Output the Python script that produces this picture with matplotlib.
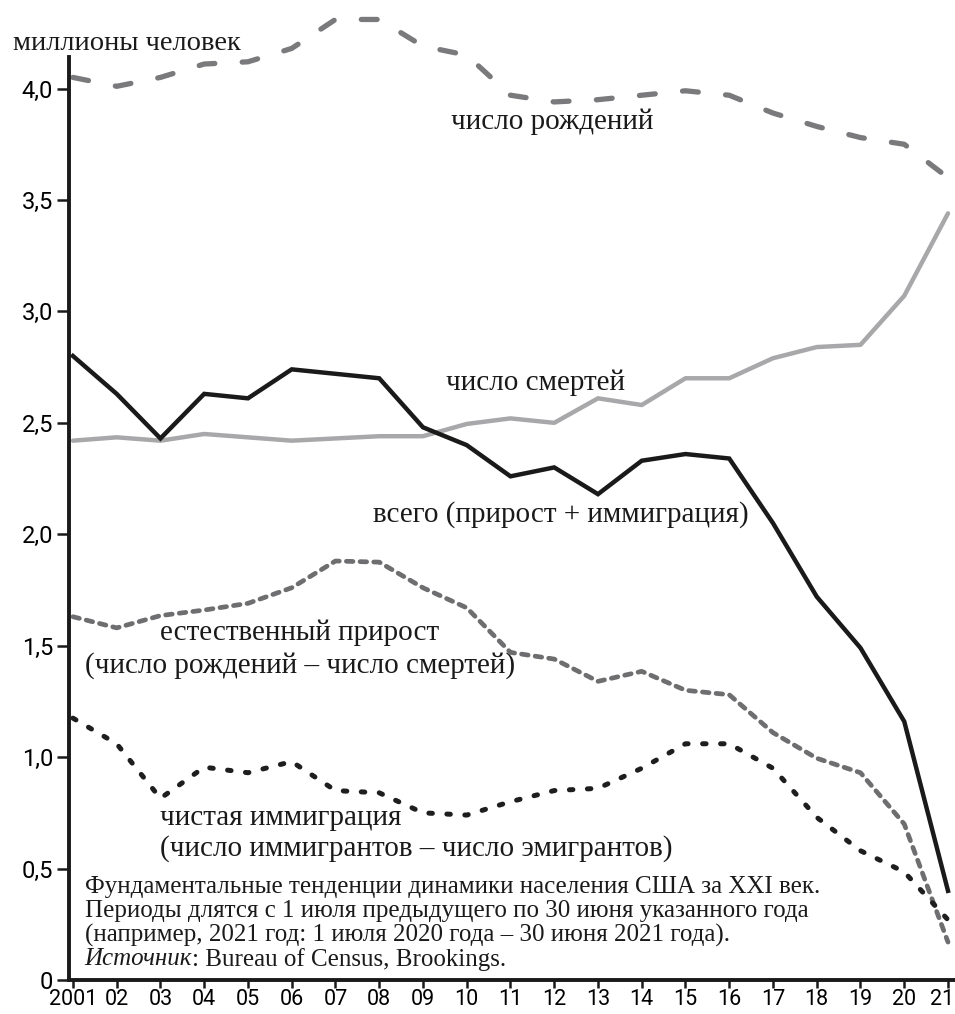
import numpy as np
import matplotlib
matplotlib.use("Agg")
import matplotlib.pyplot as plt
from matplotlib.transforms import ScaledTranslation

# годы (периоды с 1 июля по 30 июня)
years = np.arange(2001, 2022)
year_labels = ['2001'] + ['%02d' % (y % 100) for y in years[1:]]

# млн человек
births = [4.05, 4.01, 4.05, 4.11, 4.12, 4.18, 4.31, 4.31, 4.19, 4.15,
          3.97, 3.94, 3.95, 3.97, 3.99, 3.97, 3.89, 3.83, 3.78, 3.75, 3.60]
deaths = [2.42, 2.435, 2.42, 2.45, 2.435, 2.42, 2.43, 2.44, 2.44, 2.495,
          2.52, 2.50, 2.61, 2.58, 2.70, 2.70, 2.79, 2.84, 2.85, 3.07, 3.44]
total = [2.80, 2.63, 2.43, 2.63, 2.61, 2.74, 2.72, 2.70, 2.48, 2.40,
         2.26, 2.30, 2.18, 2.33, 2.36, 2.34, 2.05, 1.72, 1.49, 1.16, 0.40]
natural = [1.63, 1.58, 1.635, 1.66, 1.69, 1.76, 1.88, 1.875, 1.76, 1.67,
           1.47, 1.44, 1.34, 1.385, 1.30, 1.28, 1.11, 0.995, 0.93, 0.70, 0.17]
immigration = [1.175, 1.06, 0.815, 0.955, 0.93, 0.98, 0.85, 0.84, 0.75, 0.74,
               0.80, 0.85, 0.86, 0.95, 1.06, 1.06, 0.95, 0.73, 0.58, 0.485, 0.27]

yticks = [0, 0.5, 1.0, 1.5, 2.0, 2.5, 3.0, 3.5, 4.0]
ytick_labels = ['0', '0,5', '1,0', '1,5', '2,0', '2,5', '3,0', '3,5', '4,0']

serif = ['Liberation Serif', 'DejaVu Serif']
narrow = ['Roboto', 'DejaVu Sans']

fig = plt.figure(figsize=(9.55, 10.14), dpi=100)
ax = fig.add_axes([69/955, 34/1014, 886/955, 965/1014])

ax.plot(years, deaths, color='#a8a8aa', lw=3.2, solid_capstyle='round', clip_on=False)
ax.plot(years, total, color='#1a1a1a', lw=3.2, solid_joinstyle='miter', clip_on=False)
l_b, = ax.plot(years, births, color='#7a7a7c', lw=3.8, dash_capstyle='round', clip_on=False)
l_b.set_dashes((3.0, 5.2))
l_n, = ax.plot(years, natural, color='#6e6e70', lw=3.4, dash_capstyle='round', clip_on=False)
l_n.set_dashes((1.4, 1.5))
l_i, = ax.plot(years, immigration, color='#1e1e1e', lw=3.6, dash_capstyle='round', clip_on=False)
l_i.set_dashes((0.7, 2.9))

ax.set_xlim(2000.91, 2021.16)
ax.set_ylim(0, 4.33)
ax.spines['top'].set_visible(False)
ax.spines['right'].set_visible(False)
ax.spines['left'].set_bounds(0, 4.14)
for s in ('left', 'bottom'):
    ax.spines[s].set_linewidth(2.8)
    ax.spines[s].set_color('#1a1a1a')

ax.set_xticks(years)
ax.set_xticklabels(year_labels, family=narrow, fontsize=15.5)
ax.set_yticks(yticks)
ax.set_yticklabels(ytick_labels, family=narrow, fontsize=17)
ax.tick_params(axis='y', direction='out', length=8.5, width=1.8, pad=3, color='#1a1a1a')
ax.tick_params(axis='x', direction='out', length=5.5, width=1.8, pad=1, color='#1a1a1a')
last = ax.get_xticklabels()[-1]
last.set_transform(last.get_transform() + ScaledTranslation(-6/100, 0, fig.dpi_scale_trans))

fig.text(13/955, 1 - 44/1014, 'миллионы человек', family=serif, fontsize=20.5,
         ha='left', va='center', color='#1a1a1a')

tk = dict(family=serif, fontsize=21, color='#1a1a1a', va='center')
ax.text(2011.95, 3.85, 'число рождений', ha='center', **tk)
ax.text(2011.58, 2.68, 'число смертей', ha='center', **tk)
ax.text(2012.15, 2.09, 'всего (прирост + иммиграция)', ha='center', **tk)
ax.text(2006.19, 1.556, 'естественный прирост', ha='center', **tk)
ax.text(2006.19, 1.41, '(число рождений – число смертей)', ha='center', **tk)
ax.text(2002.99, 0.726, 'чистая иммиграция', ha='left', **tk)
ax.text(2002.99, 0.59, '(число иммигрантов – число эмигрантов)', ha='left', **tk)

fn = dict(family=serif, fontsize=18, color='#1a1a1a', va='center', ha='left')
ax.text(2001.27, 0.417, 'Фундаментальные тенденции динамики населения США за XXI век.', **fn)
ax.text(2001.27, 0.309, 'Периоды длятся с 1 июля предыдущего по 30 июня указанного года', **fn)
ax.text(2001.27, 0.202, '(например, 2021 год: 1 июля 2020 года – 30 июня 2021 года).', **fn)
src = ax.text(2001.27, 0.094, 'Источник', style='italic', **fn)
ax.annotate(': Bureau of Census, Brookings.', xy=(1, 0.5), xycoords=src,
            va='center', ha='left', family=serif, fontsize=18, color='#1a1a1a')

fig.savefig('out.png', dpi=100)
